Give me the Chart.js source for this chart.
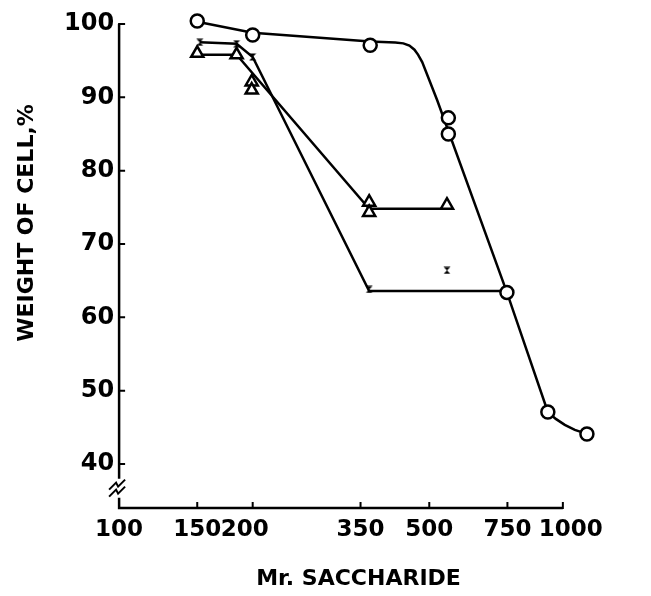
<!DOCTYPE html>
<html>
<head>
<meta charset="utf-8">
<script src="https://cdn.jsdelivr.net/npm/chart.js@4.4.1/dist/chart.umd.min.js"></script>
<style>
html,body{margin:0;padding:0;background:#fff;}
#wrap{width:651px;height:596px;position:relative;}
</style>
</head>
<body>
<div id="wrap"><canvas id="c" width="651" height="596"></canvas></div>
<script>
// ---- data ----
const xTickValues = [100, 150, 200, 350, 500, 750, 1000];
const yTickValues = [40, 50, 60, 70, 80, 90, 100];

// circles (measured points)
const xCircle = [150, 200, 368, 552, 552, 748, 925, 1133];
const yCircle = [100.4, 98.5, 97.1, 87.2, 85.0, 63.4, 47.1, 44.1];
// circles: hand-drawn curve
const xCircleFit = [150, 200, 368, 419, 437, 451, 463, 472, 482, 521, 748, 925, 964, 1010, 1064, 1133];
const yCircleFit = [100.3, 98.8, 97.6, 97.47, 97.36, 97.06, 96.5, 95.8, 94.8, 89.6, 63.4, 47.1, 46.15, 45.33, 44.65, 44.1];

// triangles
const xTri = [150, 184, 199, 199, 366, 366, 548];
const yTri = [96.0, 95.8, 92.1, 91.0, 75.7, 74.3, 75.3];
const xTriFit = [150, 184, 366, 548];
const yTriFit = [95.8, 95.8, 74.8, 74.8];

// small hourglass marks
const xMark = [152, 184, 200, 366, 548];
const yMark = [97.5, 97.3, 95.5, 63.8, 66.4];
const xMarkFit = [152, 184, 200, 366, 748];
const yMarkFit = [97.5, 97.3, 95.5, 63.6, 63.6];

const pts = (xs, ys) => xs.map((x, i) => ({x: x, y: ys[i]}));

// hourglass marker
const hg = document.createElement('canvas');
hg.width = 8; hg.height = 8;
(function(){
  const g = hg.getContext('2d');
  g.fillStyle = '#000';
  g.beginPath();
  g.moveTo(0.5,0.5); g.lineTo(7.5,0.5); g.lineTo(4,4); g.closePath(); g.fill();
  g.beginPath();
  g.moveTo(4,4); g.lineTo(7.5,7.5); g.lineTo(0.5,7.5); g.closePath(); g.fill();
})();

const FONT = "'DejaVu Sans', sans-serif";

const axesPlugin = {
  id: 'axesPlugin',
  afterDraw(chart) {
    const ctx = chart.ctx;
    const xs = chart.scales.x, ys = chart.scales.y;
    const L = chart.chartArea.left, B = chart.chartArea.bottom;
    ctx.save();
    ctx.strokeStyle = '#000';
    ctx.lineWidth = 2.5;
    ctx.lineCap = 'butt';
    // y axis line with break
    const yTop = ys.getPixelForValue(100);
    const yb1 = ys.getPixelForValue(38.0);
    const yb2 = ys.getPixelForValue(35.4);
    ctx.beginPath();
    ctx.moveTo(L, yTop); ctx.lineTo(L, yb1);
    ctx.moveTo(L, yb2); ctx.lineTo(L, B);
    // x axis line
    ctx.lineTo(xs.getPixelForValue(1000), B);
    ctx.stroke();
    // ticks
    ctx.lineWidth = 2;
    ctx.beginPath();
    yTickValues.forEach(v => {
      const p = ys.getPixelForValue(v);
      ctx.moveTo(L - 1, p); ctx.lineTo(L + 6, p);
    });
    xTickValues.slice(1).forEach(v => {
      const p = xs.getPixelForValue(v);
      ctx.moveTo(p, B + 1); ctx.lineTo(p, B - 6);
    });
    ctx.stroke();
    // break mark
    ctx.lineWidth = 2;
    ctx.beginPath();
    [0, 7].forEach(o => {
      ctx.moveTo(L - 10, yb1 + 11 + o);
      ctx.lineTo(L - 3, yb1 + 4 + o);
      ctx.lineTo(L - 1, yb1 + 8 + o);
      ctx.lineTo(L + 6, yb1 + 1 + o);
    });
    ctx.stroke();
    // y title
    ctx.fillStyle = '#000';
    ctx.font = "bold 22px " + FONT;
    ctx.textAlign = 'center';
    ctx.textBaseline = 'middle';
    ctx.translate(27, 223);
    ctx.rotate(-Math.PI / 2);
    ctx.fillText('WEIGHT OF CELL,%', 0, 0);
    ctx.restore();
  }
};

const lineBase = {
  showLine: true, pointRadius: 0, borderColor: '#000', borderWidth: 2.5,
  fill: false, clip: false, order: 2, tension: 0
};
const markBase = {
  showLine: false, borderColor: '#000', backgroundColor: '#fff',
  borderWidth: 2.5, clip: false, order: 1
};

// small visual nudges of two crowded x labels (padding with spaces)
const xLabel = v => v === 1000 ? '  1000' : (v === 200 ? '200  ' : String(v));

new Chart(document.getElementById('c'), {
  type: 'scatter',
  data: {
    datasets: [
      Object.assign({}, lineBase, {data: pts(xCircleFit, yCircleFit)}),
      Object.assign({}, lineBase, {data: pts(xTriFit, yTriFit)}),
      Object.assign({}, lineBase, {data: pts(xMarkFit, yMarkFit)}),
      Object.assign({}, markBase, {data: pts(xCircle, yCircle), pointStyle: 'circle', pointRadius: 6.5}),
      Object.assign({}, markBase, {data: pts(xTri, yTri), pointStyle: 'triangle', pointRadius: 7}),
      Object.assign({}, markBase, {data: pts(xMark, yMark), pointStyle: hg, pointRadius: 4})
    ]
  },
  options: {
    responsive: false,
    animation: false,
    events: [],
    layout: {padding: {left: 59, right: 53, top: 24, bottom: 4}},
    plugins: {legend: {display: false}, tooltip: {enabled: false}},
    scales: {
      x: {
        type: 'logarithmic', min: 100, max: 1200,
        afterBuildTicks: s => { s.ticks = xTickValues.map(v => ({value: v})); },
        grid: {display: false, drawTicks: false},
        border: {display: false},
        ticks: {autoSkip: false, maxRotation: 0, color: '#000', padding: 8,
                font: {family: FONT, weight: 'bold', size: 23},
                callback: v => xLabel(v)},
        title: {display: true, text: 'Mr. SACCHARIDE', color: '#000',
                font: {family: FONT, weight: 'bold', size: 22}, padding: {top: 14, bottom: 0}}
      },
      y: {
        min: 34, max: 100,
        afterBuildTicks: s => { s.ticks = yTickValues.map(v => ({value: v})); },
        grid: {display: false, drawTicks: false},
        border: {display: false},
        ticks: {color: '#000', padding: 5,
                font: {family: FONT, weight: 'bold', size: 24},
                callback: v => String(v)}
      }
    }
  },
  plugins: [axesPlugin]
});
</script>
</body>
</html>
